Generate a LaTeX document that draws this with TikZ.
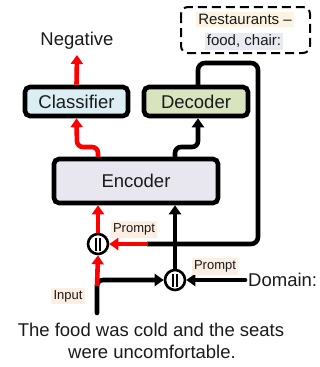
\documentclass[tikz,border=0pt]{standalone}
\usepackage{fontspec}
\setmainfont{Liberation Sans}
\usetikzlibrary{arrows.meta}
\definecolor{clsfill}{HTML}{DAEEF3}
\definecolor{decfill}{HTML}{D7E4BD}
\definecolor{encfill}{HTML}{E8E6EF}
\definecolor{hlorange}{HTML}{FCEEE2}
\definecolor{hlyellow}{HTML}{FDF3E1}
\definecolor{hlblue}{HTML}{E8EAF2}
\definecolor{txt}{HTML}{1A1A1A}
\begin{document}
\begin{tikzpicture}[x=1pt,y=-1pt,
  box/.style={draw=black, line width=4.6pt, rounded corners=5pt, font=\fontsize{18.5}{20}\selectfont, text=txt},
  concat/.style={circle, draw=black, line width=2.6pt, fill=white, minimum size=20pt, inner sep=0pt},
  blk/.style={draw=black, line width=4.6pt, rounded corners=6pt, -{Triangle[length=9pt,width=12pt]}},
  rd/.style={draw=red, line width=4.6pt, rounded corners=6pt, -{Triangle[length=9pt,width=12pt]}},
  lbl/.style={fill=hlorange, inner sep=2.5pt, font=\fontsize{13}{14}\selectfont, text=txt},
  big/.style={font=\fontsize{18.5}{20}\selectfont, text=txt, inner sep=0pt},
  mid/.style={font=\fontsize{15}{16}\selectfont, text=txt, inner sep=2pt}
]
\useasboundingbox (0,0) rectangle (320,367);

% boxes
\node[box, fill=clsfill, minimum width=103pt, minimum height=29pt] (cls) at (76.5,101.5) {Classifier};
\node[box, fill=decfill, minimum width=104pt, minimum height=29pt] (dec) at (196,101.5) {Decoder};
\node[box, fill=encfill, minimum width=164pt, minimum height=44pt] (enc) at (136,181) {Encoder};

% dashed domain description box
\draw[line width=2pt, dash pattern=on 9pt off 5pt, rounded corners=7pt] (181,7) rectangle (310,53);
\node[mid, fill=hlyellow] (rest) at (245,19.5) {Restaurants --};
\node[mid, fill=hlblue] (fc) at (244,41.5) {food, chair:};

% output label
\node[big] (neg) at (77,41) {Negative};
\coordinate (negtip) at (77,55);
\draw[rd] (cls.north) -- (negtip);

% encoder -> classifier / decoder
\coordinate (e1) at (98,157);
\coordinate (e2) at (175,157);
\draw[rd] (e1) -- (98,147) -- (77,147) -- (cls.south);
\draw[blk] (e2) -- (175,147) -- (198,147) -- (dec.south -| 198,0);

% concat nodes
\node[concat] (c1) at (98,244) {};
\node[concat] (c2) at (175,280) {};
\foreach \c in {c1,c2}{
  \draw[line width=1.9pt] ([xshift=-2.3pt,yshift=-6.5pt]\c.center) -- ([xshift=-2.3pt,yshift=6.5pt]\c.center);
  \draw[line width=1.9pt] ([xshift=2.3pt,yshift=-6.5pt]\c.center) -- ([xshift=2.3pt,yshift=6.5pt]\c.center);
}

% loop from decoder back to prompt
\coordinate (dtop) at (198,85);
\coordinate (lsplit) at (147,244);
\draw[draw=black, line width=4.6pt, rounded corners=7pt] (dtop) -- (198,63) -- (258,63) -- (258,244) -- (lsplit);
\draw[rd, rounded corners=0pt] ([xshift=1pt]lsplit) -- (c1.east);

% concat outputs to encoder
\draw[rd] (c1.north) -- (enc.south -| c1);
\draw[blk] (c2.north) -- (enc.south -| c2);

% input
\coordinate (inbot) at (97,313);
\draw[blk, line cap=round] (inbot) -- (97,280) -- (c2.west);
\draw[rd, rounded corners=0pt] (97,286) -- (c1.south);

% domain
\node[big, anchor=west] (dom) at (248,280) {Domain:};
\draw[draw=black, line width=4.6pt, line cap=round, -{Triangle[length=9pt,width=12pt]}] ([xshift=-3pt]dom.west) -- (c2.east);

% labels
\node[lbl] (p1) at (134,229.5) {Prompt};
\node[lbl] (p2) at (215,266.5) {Prompt};
\node[lbl] (inp) at (68,296) {Input};

% sentence
\node[big] (s1) at (151,330) {The food was cold and the seats};
\node[big] (s2) at (152,352) {were uncomfortable.};
\end{tikzpicture}
\end{document}
